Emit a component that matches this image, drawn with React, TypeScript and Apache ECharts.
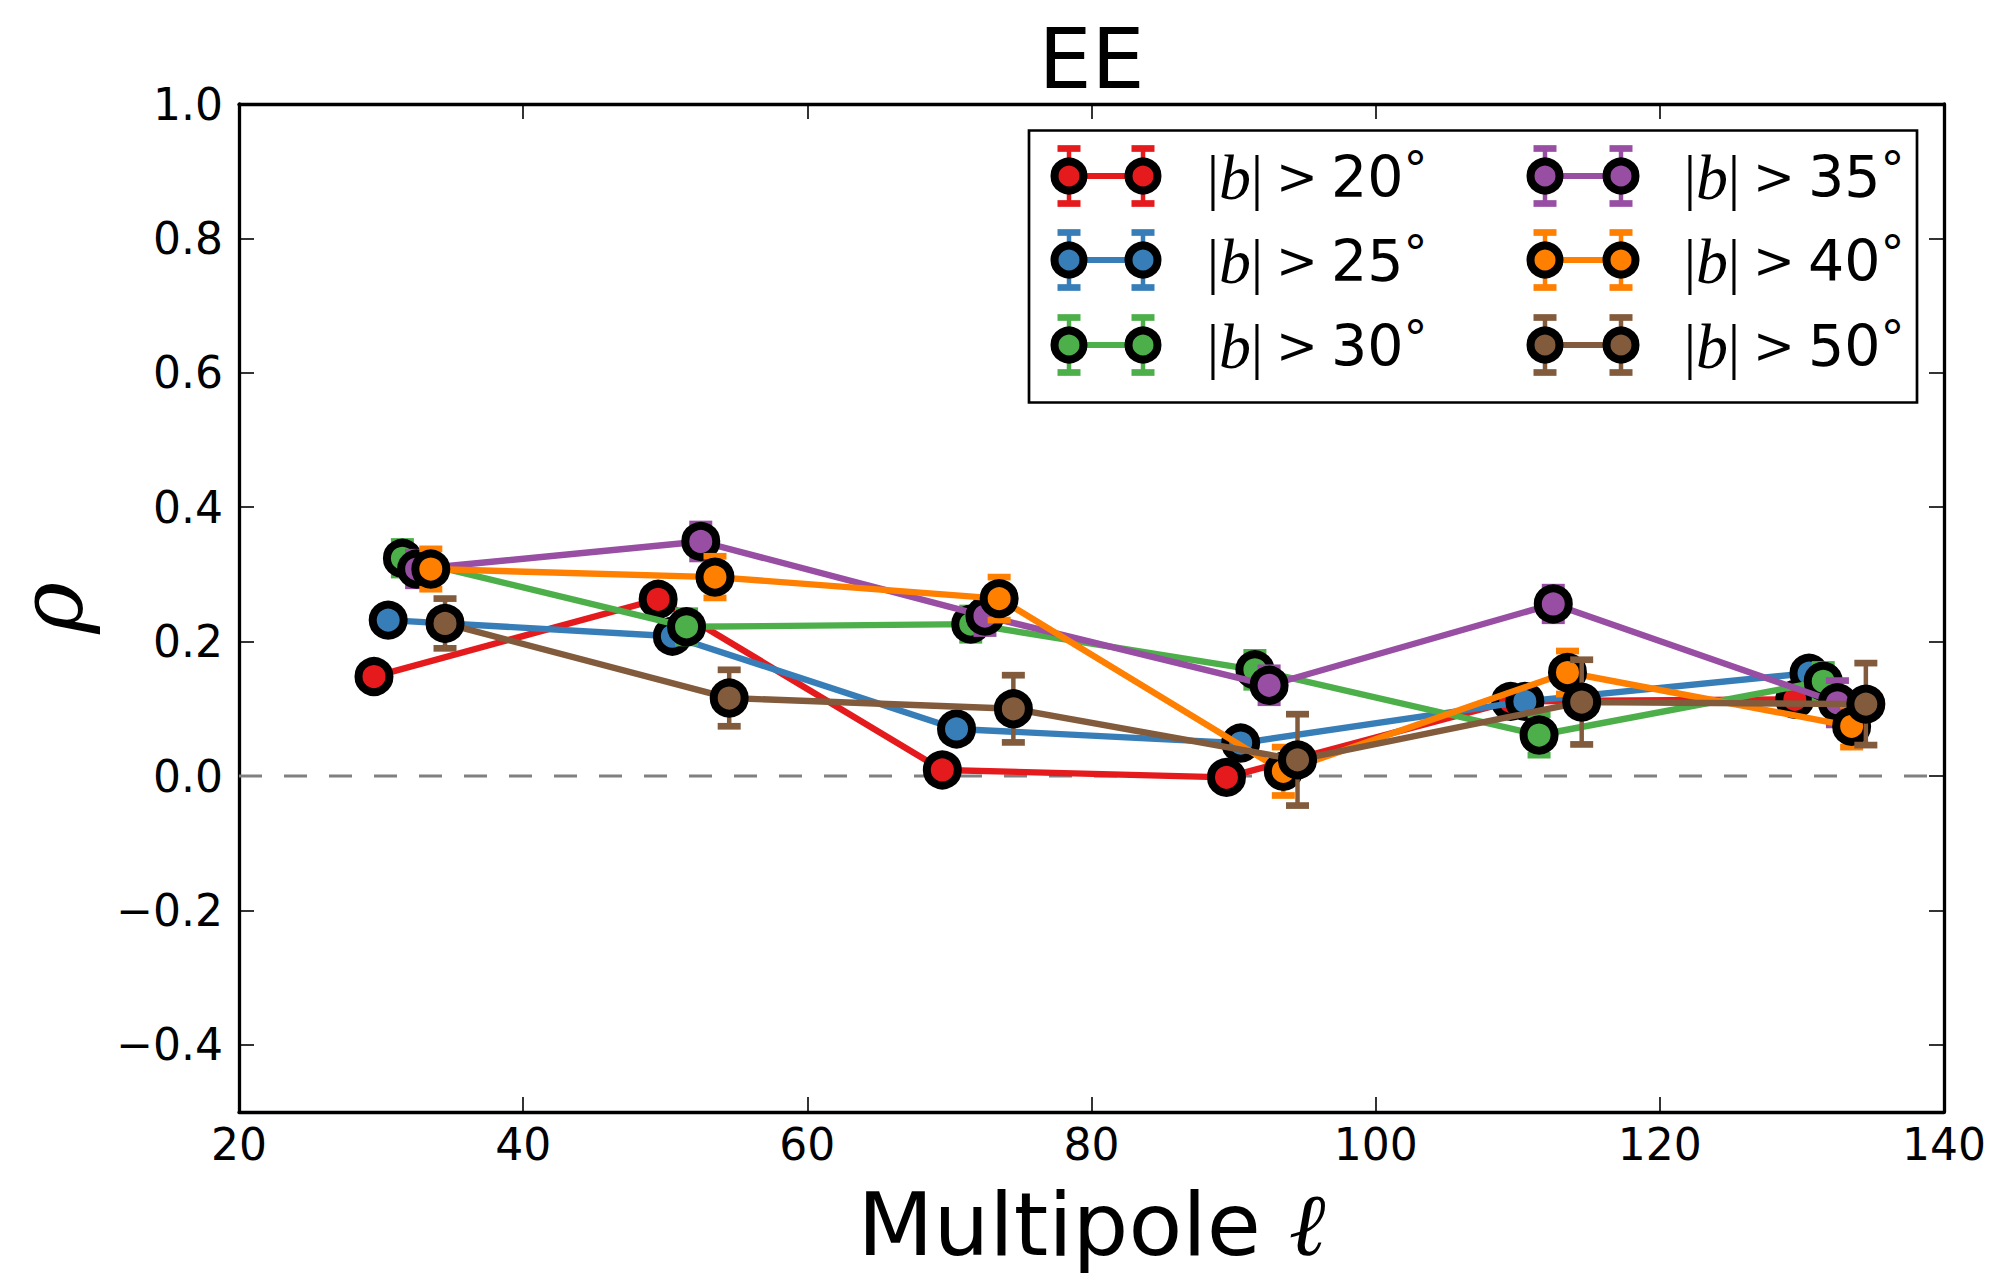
import React, { useEffect, useRef } from 'react';
import * as echarts from 'echarts';

// ---- data ----
const THRESHOLDS = ['20', '25', '30', '35', '40', '50'];
const COLORS = ['#e41a1c', '#377eb8', '#4daf4a', '#984ea3', '#ff7f00', '#825b3c'];

const ELL_20 = [29.5, 49.5, 69.5, 89.5, 109.5, 129.5];
const RHO_20 = [0.148, 0.263, 0.009, -0.002, 0.111, 0.114];
const ERR_20 = [0.012, 0.012, 0.012, 0.012, 0.012, 0.012];

const ELL_25 = [30.5, 50.5, 70.5, 90.5, 110.5, 130.5];
const RHO_25 = [0.232, 0.208, 0.07, 0.049, 0.111, 0.153];
const ERR_25 = [0.012, 0.012, 0.012, 0.012, 0.012, 0.012];

const ELL_30 = [31.5, 51.5, 71.5, 91.5, 111.5, 131.5];
const RHO_30 = [0.324, 0.222, 0.226, 0.158, 0.061, 0.141];
const ERR_30 = [0.025, 0.024, 0.024, 0.026, 0.03, 0.025];

const ELL_35 = [32.5, 52.5, 72.5, 92.5, 112.5, 132.5];
const RHO_35 = [0.308, 0.349, 0.238, 0.135, 0.256, 0.109];
const ERR_35 = [0.025, 0.026, 0.026, 0.026, 0.025, 0.033];

const ELL_40 = [33.5, 53.5, 73.5, 93.5, 113.5, 133.5];
const RHO_40 = [0.308, 0.296, 0.264, 0.007, 0.154, 0.074];
const ERR_40 = [0.03, 0.031, 0.032, 0.036, 0.032, 0.031];

const ELL_50 = [34.5, 54.5, 74.5, 94.5, 114.5, 134.5];
const RHO_50 = [0.227, 0.116, 0.1, 0.024, 0.11, 0.107];
const ERR_50 = [0.037, 0.042, 0.05, 0.068, 0.063, 0.061];

const ELLS = [ELL_20, ELL_25, ELL_30, ELL_35, ELL_40, ELL_50];
const RHOS = [RHO_20, RHO_25, RHO_30, RHO_35, RHO_40, RHO_50];
const ERRS = [ERR_20, ERR_25, ERR_30, ERR_35, ERR_40, ERR_50];

const X_MIN = 20;
const X_MAX = 140;
const X_STEP = 20;
const Y_MIN = -0.5;
const Y_MAX = 1.0;
const Y_TICKS = [-0.4, -0.2, 0, 0.2, 0.4, 0.6, 0.8, 1.0];
const ZERO_LINE = [[20, 0], [140, 0]];

const TITLE = 'EE';

const fmtY = (v: number) => (v < 0 ? '\u2212' + Math.abs(v).toFixed(1) : v.toFixed(1));

export default function App() {
  const ref = useRef<HTMLDivElement>(null);

  useEffect(() => {
    if (!ref.current) return;
    const chart = echarts.init(ref.current, null, { renderer: 'svg' });

    const series: any[] = [];
    series.push({
      type: 'line',
      name: 'zero',
      data: ZERO_LINE,
      symbol: 'none',
      silent: true,
      z: 1,
      lineStyle: { color: '#808080', width: 3, type: [23, 22] },
    });

    THRESHOLDS.forEach((t, i) => {
      const color = COLORS[i];
      const errData = ELLS[i].map((x, k) => [x, RHOS[i][k], ERRS[i][k]]);
      series.push({
        type: 'custom',
        name: '|b| > ' + t + '° err',
        data: errData,
        encode: { x: 0, y: 1 },
        silent: true,
        z: 10 + i * 2,
        renderItem: (params: any, api: any) => {
          const x = api.value(0);
          const y = api.value(1);
          const e = api.value(2);
          const top = api.coord([x, y + e]);
          const bot = api.coord([x, y - e]);
          const hw = 11.5;
          return {
            type: 'group',
            children: [
              { type: 'line', shape: { x1: top[0], y1: top[1], x2: bot[0], y2: bot[1] }, style: { stroke: color, lineWidth: 4.5 } },
              { type: 'line', shape: { x1: top[0] - hw, y1: top[1], x2: top[0] + hw, y2: top[1] }, style: { stroke: color, lineWidth: 6.7 } },
              { type: 'line', shape: { x1: bot[0] - hw, y1: bot[1], x2: bot[0] + hw, y2: bot[1] }, style: { stroke: color, lineWidth: 6.7 } },
            ],
          };
        },
      });
      series.push({
        type: 'line',
        name: '|b| > ' + t + '°',
        data: ELLS[i].map((x, k) => [x, RHOS[i][k]]),
        symbol: 'circle',
        symbolSize: 31,
        showAllSymbol: true,
        silent: true,
        z: 11 + i * 2,
        lineStyle: { color, width: 6.4 },
        itemStyle: { color, borderColor: '#000', borderWidth: 8 },
        emphasis: { disabled: true },
      });
    });

    // legend drawn as graphic (matplotlib errorbar handles)
    const legendEls: any[] = [];
    legendEls.push({
      type: 'rect',
      shape: { x: 1029, y: 130.5, width: 888, height: 272 },
      style: { fill: '#fff', stroke: '#000', lineWidth: 2.7 },
      z: 100,
    });
    const rowY = [176, 260, 345];
    const richStyles = {
      v: { fontFamily: 'Liberation Serif', fontSize: 62, fill: '#000', width: 12, align: 'center' },
      b: { fontFamily: 'Liberation Serif', fontStyle: 'italic', fontSize: 64, fill: '#000', width: 32, align: 'center' },
      g: { fontFamily: 'DejaVu Serif', fontSize: 50, fontWeight: 200, fill: '#000', width: 68, align: 'center' },
      n: { fontFamily: 'DejaVu Sans', fontSize: 57, fill: '#000' },
      d: { fontFamily: 'DejaVu Sans', fontSize: 48, fill: '#000', verticalAlign: 'top' },
    };
    THRESHOLDS.forEach((t, i) => {
      const col = Math.floor(i / 3);
      const y = rowY[i % 3];
      const x1 = col === 0 ? 1069 : 1545;
      const x2 = col === 0 ? 1143 : 1621;
      const tx = col === 0 ? 1207 : 1684;
      const color = COLORS[i];
      legendEls.push({ type: 'line', shape: { x1, y1: y, x2, y2: y }, style: { stroke: color, lineWidth: 6 }, z: 101 });
      [x1, x2].forEach((x) => {
        legendEls.push({ type: 'line', shape: { x1: x, y1: y - 27.5, x2: x, y2: y + 27.5 }, style: { stroke: color, lineWidth: 4.5 }, z: 101 });
        legendEls.push({ type: 'line', shape: { x1: x - 11.5, y1: y - 27.5, x2: x + 11.5, y2: y - 27.5 }, style: { stroke: color, lineWidth: 6.7 }, z: 101 });
        legendEls.push({ type: 'line', shape: { x1: x - 11.5, y1: y + 27.5, x2: x + 11.5, y2: y + 27.5 }, style: { stroke: color, lineWidth: 6.7 }, z: 101 });
        legendEls.push({ type: 'circle', shape: { cx: x, cy: y, r: 14.5 }, style: { fill: color, stroke: '#000', lineWidth: 8 }, z: 102 });
      });
      legendEls.push({
        type: 'text',
        x: tx,
        y: y + 1,
        z: 102,
        style: {
          text: '{v||}{b|b}{v||}{g|>}{n|' + t + '}{d|°}',
          align: 'left',
          verticalAlign: 'middle',
          fill: '#000',
          rich: richStyles,
        },
      });
    });

    legendEls.push({
      type: 'text',
      x: 1091.5,
      y: 59,
      style: {
        text: TITLE,
        fontFamily: 'DejaVu Sans',
        fontSize: 84,
        fill: '#000',
        align: 'center',
        verticalAlign: 'middle',
      },
    });

    const tickStyle = { inside: true, length: 15, lineStyle: { color: '#000', width: 1.6 } };
    const lineStyle = { show: true, onZero: false, lineStyle: { color: '#000', width: 3.3 } };

    chart.setOption({
      animation: false,
      backgroundColor: '#fff',
      grid: { left: 239, right: 50, top: 104, bottom: 163, containLabel: false, outerBoundsMode: 'none' },
      xAxis: [
        {
          type: 'value',
          min: X_MIN,
          max: X_MAX,
          interval: X_STEP,
          position: 'bottom',
          axisLine: lineStyle,
          axisTick: tickStyle,
          splitLine: { show: false },
          axisLabel: { fontSize: 44, fontFamily: 'DejaVu Sans', color: '#000', margin: 10 },
          name: 'Multipole {l|ℓ}',
          nameLocation: 'middle',
          nameGap: 70,
          nameTextStyle: {
            fontSize: 88,
            fontFamily: 'DejaVu Sans',
            color: '#000',
            lineHeight: 84,
            rich: { l: { fontSize: 88, fontFamily: 'DejaVu Serif', fontStyle: 'italic', color: '#000', lineHeight: 84 } },
          },
        },
        {
          type: 'value',
          min: X_MIN,
          max: X_MAX,
          interval: X_STEP,
          position: 'top',
          axisLine: lineStyle,
          axisTick: tickStyle,
          splitLine: { show: false },
          axisLabel: { show: false },
        },
      ],
      yAxis: [
        {
          type: 'value',
          min: Y_MIN,
          max: Y_MAX,
          position: 'left',
          axisLine: lineStyle,
          axisTick: { ...tickStyle, customValues: Y_TICKS },
          splitLine: { show: false },
          axisLabel: { customValues: Y_TICKS, formatter: fmtY, fontSize: 44, fontFamily: 'DejaVu Sans', color: '#000', margin: 16 },
          name: 'ρ',
          nameLocation: 'middle',
          nameGap: 144,
          nameRotate: 90,
          nameTextStyle: { fontSize: 88, fontFamily: 'DejaVu Serif', fontStyle: 'italic', color: '#000' },
        },
        {
          type: 'value',
          min: Y_MIN,
          max: Y_MAX,
          position: 'right',
          axisLine: lineStyle,
          axisTick: { ...tickStyle, customValues: Y_TICKS },
          splitLine: { show: false },
          axisLabel: { show: false },
        },
      ],
      graphic: { elements: legendEls },
      series,
    });

    return () => chart.dispose();
  }, []);

  return <div ref={ref} style={{ position: 'absolute', left: 0, top: 0, width: 1994, height: 1275 }} />;
}
